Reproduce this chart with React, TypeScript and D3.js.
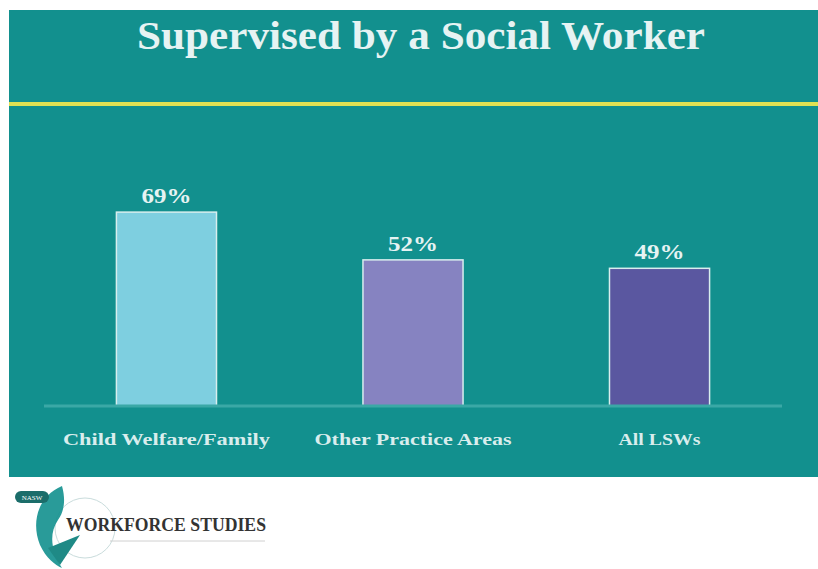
import React, { useEffect, useRef } from 'react';
import * as d3 from 'd3';

// Chart data
const categories: string[] = ['Child Welfare/Family', 'Other Practice Areas', 'All LSWs'];
const values: number[] = [69, 52, 49];
const barColors: string[] = ['#7ecfe0', '#8683c1', '#5a57a0'];
const labelWidths: number[] = [207, 197, 82]; // approx rendered widths in the original
const chartTitle = 'Supervised by a Social Worker';

const W = 818;
const H = 569;
const TEAL = '#12908e';
const SERIF = '"Liberation Serif", "DejaVu Serif", serif';

export default function App() {
    const ref = useRef<SVGSVGElement>(null);

    useEffect(() => {
        if (!ref.current) return;
        const svg = d3.select(ref.current);
        svg.selectAll('*').remove();

        // Panel
        svg.append('rect').attr('x', 9).attr('y', 10).attr('width', W - 9).attr('height', 467).attr('fill', TEAL);

        // Title
        svg.append('text')
            .attr('x', 421)
            .attr('y', 49)
            .attr('text-anchor', 'middle')
            .attr('font-family', SERIF)
            .attr('font-weight', 'bold')
            .attr('font-size', 39)
            .attr('fill', '#e6f3f3')
            .attr('textLength', 568)
            .attr('lengthAdjust', 'spacingAndGlyphs')
            .text(chartTitle);

        // Yellow rule
        svg.append('rect').attr('x', 9).attr('y', 102).attr('width', W - 9).attr('height', 4).attr('fill', '#dfe153');

        // Scales
        const x = d3.scaleBand<string>().domain(categories).range([40, 786]).paddingInner(0.594).paddingOuter(0.31);
        const y = d3.scaleLinear().domain([0, 100]).range([406, 125]);

        const data = categories.map((c, i) => ({ c, v: values[i], color: barColors[i], w: labelWidths[i] }));

        // Bars
        svg.append('g')
            .selectAll('rect')
            .data(data)
            .join('rect')
            .attr('x', (d) => x(d.c)!)
            .attr('y', (d) => y(d.v))
            .attr('width', x.bandwidth())
            .attr('height', (d) => y(0) - y(d.v))
            .attr('fill', (d) => d.color)
            .attr('stroke', '#d8eeee')
            .attr('stroke-width', 1.5);

        // Baseline
        svg.append('line')
            .attr('x1', 44)
            .attr('x2', 782)
            .attr('y1', y(0))
            .attr('y2', y(0))
            .attr('stroke', '#3aa8a6')
            .attr('stroke-width', 3);

        // Value labels
        svg.append('g')
            .selectAll('text')
            .data(data)
            .join('text')
            .attr('x', (d) => x(d.c)! + x.bandwidth() / 2)
            .attr('y', (d) => y(d.v) - 9)
            .attr('text-anchor', 'middle')
            .attr('font-family', SERIF)
            .attr('font-weight', 'bold')
            .attr('font-size', 22)
            .attr('fill', '#e6f3f3')
            .attr('textLength', 50)
            .attr('lengthAdjust', 'spacingAndGlyphs')
            .text((d) => `${d.v}%`);

        // Category labels
        svg.append('g')
            .selectAll('text')
            .data(data)
            .join('text')
            .attr('x', (d) => x(d.c)! + x.bandwidth() / 2)
            .attr('y', 445)
            .attr('text-anchor', 'middle')
            .attr('font-family', SERIF)
            .attr('font-weight', 'bold')
            .attr('font-size', 17)
            .attr('fill', '#d9eded')
            .attr('textLength', (d) => d.w)
            .attr('lengthAdjust', 'spacingAndGlyphs')
            .text((d) => d.c);

        // Logo (approximation)
        const logo = svg.append('g');
        logo.append('circle').attr('cx', 85).attr('cy', 528).attr('r', 30).attr('fill', 'none').attr('stroke', '#c9dcdc').attr('stroke-width', 1);
        logo.append('path')
            .attr('d', 'M62,486 C40,495 30,520 40,545 C46,558 55,565 62,568 C52,552 48,535 58,520 C64,512 66,500 62,486 Z')
            .attr('fill', TEAL)
            .attr('opacity', 0.9);
        logo.append('path')
            .attr('d', 'M48,548 L80,535 L60,565 Z')
            .attr('fill', '#1f8a86');
        logo.append('rect').attr('x', 15).attr('y', 491).attr('width', 34).attr('height', 12).attr('rx', 6).attr('fill', '#1b6d6a');
        logo.append('text')
            .attr('x', 32)
            .attr('y', 500)
            .attr('text-anchor', 'middle')
            .attr('font-family', SERIF)
            .attr('font-size', 7)
            .attr('fill', '#ffffff')
            .text('NASW');
        logo.append('text')
            .attr('x', 66)
            .attr('y', 531)
            .attr('font-family', SERIF)
            .attr('font-size', 19)
            .attr('font-weight', 'bold')
            .attr('fill', '#333333')
            .attr('textLength', 200)
            .attr('lengthAdjust', 'spacingAndGlyphs')
            .text('WORKFORCE STUDIES');
        logo.append('line').attr('x1', 110).attr('x2', 265).attr('y1', 541).attr('y2', 541).attr('stroke', '#d0d0d0').attr('stroke-width', 1);
    }, []);

    return (
        <div style={{ position: 'fixed', left: 0, top: 0, width: W, height: H, background: 'white' }}>
            <svg ref={ref} width={W} height={H} viewBox={`0 0 ${W} ${H}`} style={{ display: 'block' }} />
        </div>
    );
}
